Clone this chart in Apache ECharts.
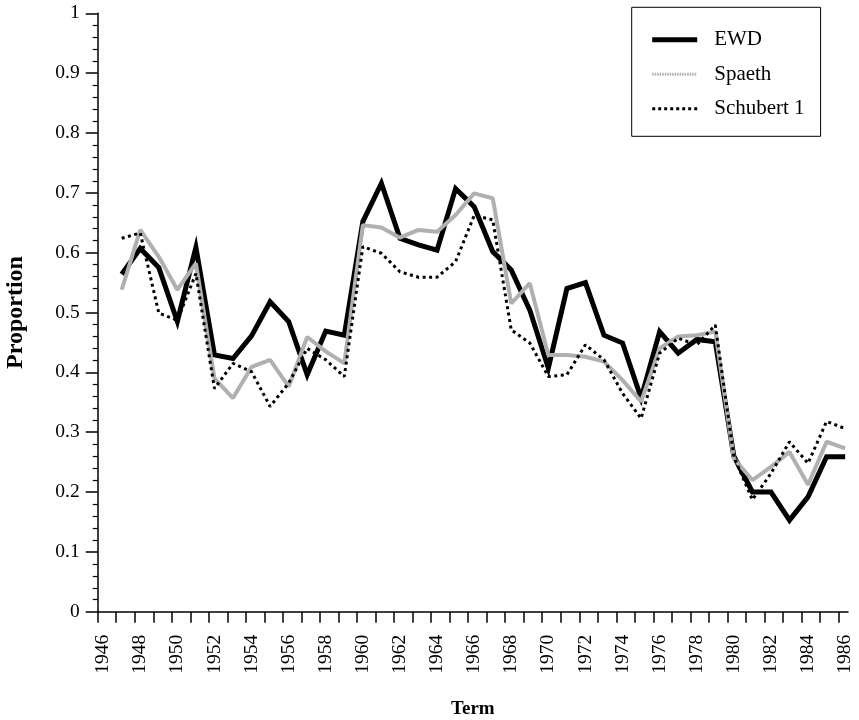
<!DOCTYPE html>
<html>
<head>
<meta charset="utf-8">
<script src="https://cdn.jsdelivr.net/npm/echarts@6/dist/echarts.min.js"></script>
<style>
html,body{margin:0;padding:0;background:#fff;}
#chart{width:859px;height:720px;}
</style>
</head>
<body>
<div id="chart"></div>
<script>
// ---- data ----
const years = [1947,1948,1949,1950,1951,1952,1953,1954,1955,1956,1957,1958,1959,1960,
  1961,1962,1963,1964,1965,1966,1967,1968,1969,1970,1971,1972,1973,1974,1975,1976,
  1977,1978,1979,1980,1981,1982,1983,1984,1985,1986];
const ewd = [0.564,0.607,0.575,0.485,0.609,0.429,0.423,0.461,0.518,0.485,0.396,0.469,0.462,0.652,
  0.716,0.624,0.613,0.604,0.707,0.677,0.602,0.571,0.504,0.407,0.540,0.550,0.462,0.449,0.357,0.468,
  0.432,0.455,0.451,0.260,0.200,0.200,0.153,0.192,0.259,0.259];
const spaeth = [0.538,0.638,0.593,0.538,0.582,0.390,0.357,0.409,0.421,0.376,0.459,0.435,0.415,0.646,
  0.642,0.625,0.638,0.635,0.663,0.699,0.691,0.515,0.549,0.429,0.429,0.426,0.418,0.387,0.351,0.440,
  0.460,0.462,0.468,0.256,0.220,0.242,0.267,0.212,0.284,0.273];
const schubert = [0.624,0.633,0.499,0.487,0.565,0.373,0.415,0.401,0.343,0.382,0.440,0.421,0.393,0.610,
  0.599,0.568,0.559,0.559,0.585,0.662,0.655,0.471,0.449,0.393,0.396,0.446,0.421,0.365,0.323,0.432,
  0.457,0.446,0.479,0.259,0.187,0.231,0.284,0.248,0.318,0.306];
const tickYears = [];
for (let y = 1946; y <= 1986; y++) tickYears.push(y);
const labelYears = tickYears.filter(y => y % 2 === 0);

const FONT = "'Liberation Serif', 'Times New Roman', serif";
const pairs = arr => arr.map((v, i) => [years[i], v]);

const chart = echarts.init(document.getElementById('chart'), null, {renderer: 'canvas'});
chart.setOption({
  backgroundColor: '#fff',
  animation: false,
  textStyle: {fontFamily: FONT},
  grid: {left: 97.7, right: 11, top: 13.3, bottom: 108.3, containLabel: false, outerBoundsMode: 'none'},
  legend: {
    orient: 'vertical',
    left: 631.7, top: 7.3,
    borderColor: '#000', borderWidth: 1, borderRadius: 0,
    padding: [22, 16, 17, 18],
    itemWidth: 45, itemHeight: 14, itemGap: 13.5,
    itemStyle: {opacity: 0},
    textStyle: {fontFamily: FONT, fontSize: 21, color: '#000', padding: [0, 0, 0, 12], lineHeight: 20},
    data: [
      {name: 'EWD', itemStyle: {opacity: 0}, lineStyle: {color: '#000', width: 5, type: 'solid'}},
      {name: 'Spaeth', itemStyle: {opacity: 0}, lineStyle: {color: '#b0b0b0', width: 3, type: [1.5, 1]}},
      {name: 'Schubert 1', itemStyle: {opacity: 0}, lineStyle: {color: '#000', width: 3, type: [3, 3]}}
    ]
  },
  xAxis: [
    {
      type: 'value', min: 1946, max: 1986.51,
      name: 'Term', nameLocation: 'middle', nameGap: 88,
      nameTextStyle: {fontFamily: FONT, fontSize: 19, fontWeight: 'bold', color: '#000'},
      axisLine: {show: true, lineStyle: {color: '#000', width: 1.5}},
      axisTick: {show: true, inside: false, length: 11, customValues: tickYears, lineStyle: {color: '#000', width: 1.5}},
      axisLabel: {show: false},
      splitLine: {show: false}
    },
    {
      type: 'value', min: 1945.706, max: 1986.154, position: 'bottom',
      axisLine: {show: false}, axisTick: {show: false},
      axisLabel: {show: true, rotate: 90, margin: 23, customValues: labelYears,
        fontFamily: FONT, fontSize: 19.5, color: '#000', formatter: v => String(v)},
      splitLine: {show: false}
    }
  ],
  yAxis: {
    type: 'value', min: 0, max: 1, interval: 0.1,
    name: 'Proportion', nameLocation: 'middle', nameGap: 70, nameRotate: 90,
    nameTextStyle: {fontFamily: FONT, fontSize: 24, fontWeight: 'bold', color: '#000'},
    axisLine: {show: true, lineStyle: {color: '#000', width: 1.5}},
    axisTick: {show: true, inside: false, length: 12, lineStyle: {color: '#000', width: 1.5}},
    minorTick: {show: true, splitNumber: 5, length: 5, lineStyle: {color: '#000', width: 1.2}},
    axisLabel: {margin: 18, fontFamily: FONT, fontSize: 19.5, color: '#000',
      formatter: v => String(Math.round(v * 10) / 10)},
    splitLine: {show: false}
  },
  series: [
    {
      name: 'EWD', type: 'line', xAxisIndex: 1, data: pairs(ewd),
      showSymbol: false, symbol: 'none', clip: false,
      lineStyle: {color: '#000', width: 5, join: 'miter'},
      itemStyle: {color: '#000', opacity: 0}
    },
    {
      name: 'Spaeth', type: 'line', xAxisIndex: 1, data: pairs(spaeth),
      showSymbol: false, symbol: 'none', clip: false,
      lineStyle: {color: '#b0b0b0', width: 4},
      itemStyle: {color: '#b0b0b0', opacity: 0}
    },
    {
      name: 'Schubert 1', type: 'line', xAxisIndex: 1, data: pairs(schubert),
      showSymbol: false, symbol: 'none', clip: false,
      lineStyle: {color: '#000', width: 3, type: [3, 3.5]},
      itemStyle: {color: '#000', opacity: 0}
    }
  ]
});
</script>
</body>
</html>
